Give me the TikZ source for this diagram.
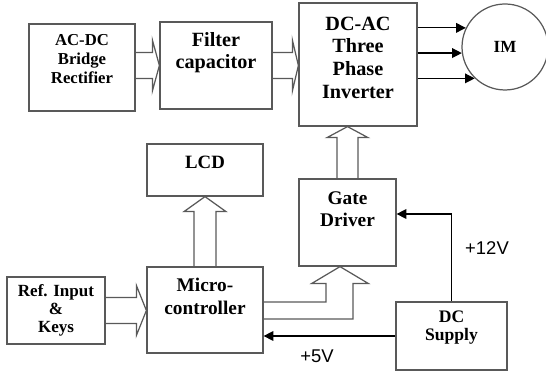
\documentclass[tikz,border=0pt]{standalone}
\usepackage{fontspec}
\setmainfont{Liberation Serif}
\newfontfamily\voltfont{Liberation Sans}
\usetikzlibrary{arrows.meta, positioning, calc}

\begin{document}
\begin{tikzpicture}[
    block/.style={draw=black!65, line width=0.7pt, inner sep=0pt},
    lbl/.style={align=center, inner sep=0pt},
    hollow/.style={draw=black!65, line width=0.7pt},
    arr/.style={-{Triangle[length=5.5pt, width=5.5pt]}, line width=0.7pt},
    volt/.style={font=\voltfont\fontsize{10.5}{12}\selectfont},
  ]
    \useasboundingbox (0,0) rectangle (10.92,7.46);

    \node[block, minimum width=2.12cm, minimum height=1.74cm] (rect) at (1.64, 6.11) {};
    \node[block, minimum width=2.24cm, minimum height=1.74cm] (filt) at (4.32, 6.15) {};
    \node[block, minimum width=2.36cm, minimum height=2.46cm] (inv) at (7.16, 6.17) {};
    \node[block, circle, minimum size=1.72cm] (im) at (10.10, 6.52) {};
    \node[block, minimum width=2.32cm, minimum height=1.04cm] (lcd) at (4.10, 4.06) {};
    \node[block, minimum width=2.32cm, minimum height=1.72cm] (mcu) at (4.10, 1.26) {};
    \node[block, minimum width=1.96cm, minimum height=1.34cm] (ref) at (1.12, 1.25) {};
    \node[block, minimum width=1.94cm, minimum height=1.74cm] (gate) at (6.95, 3.01) {};
    \node[block, minimum width=2.22cm, minimum height=1.36cm] (dc) at (9.03, 0.74) {};

    \node[lbl, font=\fontsize{9.5}{11}\selectfont\bfseries] (rectT) at ([yshift=.17cm]rect.center)
      {AC-DC\\Bridge\\Rectifier};
    \node[lbl, font=\fontsize{11.5}{12.3}\selectfont\bfseries] (filtT) at ([yshift=.26cm]filt.center)
      {Filter\\capacitor};
    \node[lbl, font=\fontsize{11.5}{12.9}\selectfont\bfseries] (invT) at ([yshift=.14cm]inv.center)
      {DC-AC\\Three\\Phase\\Inverter};
    \node[lbl, font=\fontsize{9.7}{11}\selectfont\bfseries] (imT) at (im) {IM};
    \node[lbl, font=\fontsize{10.7}{12}\selectfont\bfseries] (lcdT) at ([yshift=.16cm]lcd.center) {LCD};
    \node[lbl, font=\fontsize{11}{13}\selectfont\bfseries] (mcuT) at ([yshift=.27cm]mcu.center)
      {Micro-\\controller};
    \node[lbl, font=\fontsize{9.7}{10.4}\selectfont\bfseries] (refT) at (ref) {Ref. Input\\\&\\Keys};
    \node[lbl, font=\fontsize{11}{12.3}\selectfont\bfseries] (gateT) at ([yshift=.27cm]gate.center)
      {Gate\\Driver};
    \node[lbl, font=\fontsize{10}{10.4}\selectfont\bfseries] (dcT) at ([yshift=.17cm]dc.center)
      {DC\\Supply};

    \node[volt] (v12) at (9.74, 2.50) {+12V};
    \node[volt] (v5) at (6.34, 0.34) {+5V};

    % hollow block arrows
    \draw[hollow] ($(filt.west -| rect.east)+(0,.26)$) -- ($(filt.west)+(-.14,.26)$) -- ++(0,.25)
      -- (filt.west) -- ++(-.14,-.51) -- ++(0,.25) -- ($(filt.west -| rect.east)+(0,-.26)$);
    \draw[hollow] ($(filt.east)+(0,.26)$) -- ($(filt.east -| inv.west)+(-.12,.26)$) -- ++(0,.25)
      -- (filt.east -| inv.west) -- ++(-.12,-.51) -- ++(0,.25) -- ($(filt.east)+(0,-.26)$);
    \draw[hollow] ($(gate.north)+(-.21,0)$) -- ($(gate.north |- inv.south)+(-.21,-.22)$) -- ++(-.2,0)
      -- (gate.north |- inv.south) -- ++(.41,-.22) -- ++(-.2,0) -- ($(gate.north)+(.21,0)$);
    \draw[hollow] ($(mcu.north)+(-.22,0)$) -- ($(lcd.south)+(-.22,-.30)$) -- ++(-.2,0)
      -- (lcd.south) -- ++(.42,-.30) -- ++(-.2,0) -- ($(mcu.north)+(.22,0)$);
    \draw[hollow] ($(ref.east)+(0,.26)$) -- ($(ref.east -| mcu.west)+(-.2,.26)$) -- ++(0,.24)
      -- (ref.east -| mcu.west) -- ++(-.2,-.5) -- ++(0,.24) -- ($(ref.east)+(0,-.26)$);
    \coordinate (gtip) at ([xshift=-.15cm]gate.south);
    \draw[hollow] ($(mcu.east)+(0,.16)$) -| ($(gtip)+(-.28,-.34)$) -- ++(-.29,0) -- (gtip)
      -- ++(.57,-.34) -- ++(-.31,0) |- ($(mcu.east)+(0,-.18)$);

    % supply and motor lines
    \draw[arr] (dc.north) |- ([yshift=.17cm]gate.east);
    \draw[arr] (dc.west) -- (dc.west -| mcu.east);
    \foreach \a in {154,188,226}
      \draw[arr] (im.\a -| inv.east) -- (im.\a);
  \end{tikzpicture}
\end{document}
